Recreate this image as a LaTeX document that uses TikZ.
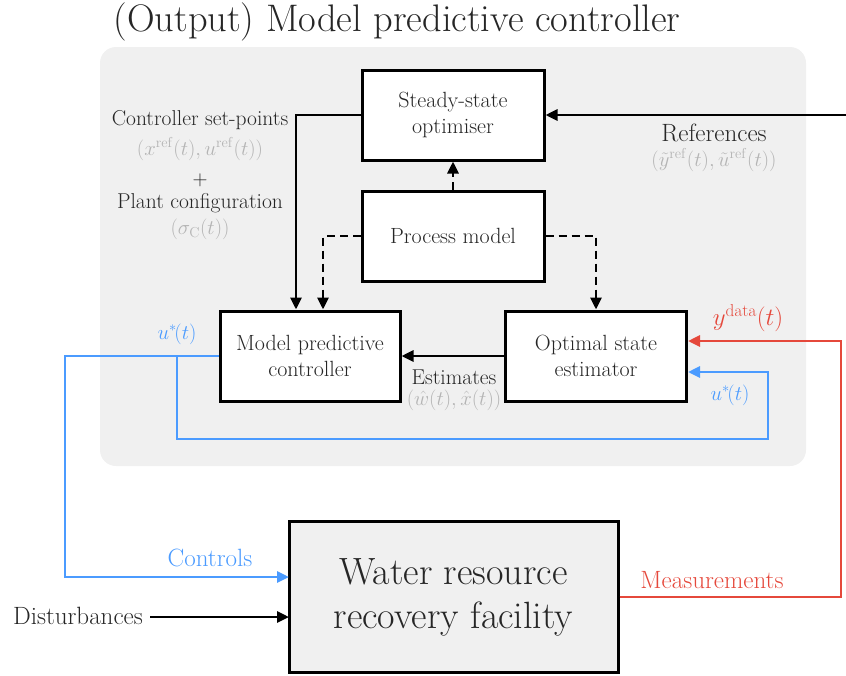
\documentclass[tikz,border=0pt]{standalone}
\usetikzlibrary{arrows.meta,positioning}
\definecolor{panel}{HTML}{F0F0F0}
\definecolor{ctrlblue}{HTML}{4B9BFF}
\definecolor{measred}{HTML}{E5483B}
\definecolor{softgray}{HTML}{B4B4B4}
\definecolor{ink}{HTML}{262626}
\tikzset{
  x=1pt, y=-1pt,
  block/.style={draw=black, line width=3pt, fill=white, minimum width=182pt, minimum height=90pt,
    align=center, text=ink, font=\fontsize{22}{26}\selectfont},
  plantbox/.style={draw=black, line width=3pt, fill=panel, minimum width=329pt, minimum height=151pt,
    align=center, text=ink, font=\fontsize{38}{44}\selectfont},
  tip/.style={-{Triangle[length=12pt,width=11pt]}},
  flow/.style={line width=2.9pt, tip},
  model/.style={flow, dash pattern=on 8pt off 5pt},
  lbl/.style={text=ink, font=\fontsize{21.5}{24}\selectfont, inner sep=0pt},
  sublbl/.style={text=softgray, font=\fontsize{21.5}{24}\selectfont, inner sep=0pt},
  biglbl/.style={font=\fontsize{25}{28}\selectfont, inner sep=0pt},
  siglbl/.style={font=\fontsize{22}{26}\selectfont, inner sep=0pt},
}
\begin{document}
\begin{tikzpicture}
\useasboundingbox (0,0) rectangle (846,675);

% controller panel
\fill[panel, rounded corners=16pt] (100,47) rectangle (806,466);
\node[text=ink, font=\fontsize{38.4}{44}\selectfont, inner sep=0pt] (title) at (397,22) {(Output) Model predictive controller};

% blocks
\node[block] (sso) at (453,115) {Steady-state\\optimiser};
\node[block] (pm) at (453,236) {Process model};
\node[block, minimum width=180pt] (mpc) at (310,356) {Model predictive\\controller};
\node[block, minimum width=181pt] (ose) at (596,356) {Optimal state\\estimator};
\node[plantbox] (wrrf) at (453.5,597) {Water resource\\recovery facility};

% helper points
\coordinate (refin) at (846,115);
\coordinate (spA) at (296,115);
\coordinate (pmL) at (323,236);
\coordinate (pmR) at (596,236);
\coordinate (uL) at (65,356);
\coordinate (uBranch) at (177,356);
\coordinate (fbA) at (177,439);
\coordinate (fbB) at (768,439);
\coordinate (fbC) at (768,372);
\coordinate (mR) at (841,597);
\coordinate (mT) at (841,341);
\coordinate (ctlIn) at (289,577);
\coordinate (distIn) at (289,617);
\coordinate (distL) at (150,617);

% references into the optimiser
\draw[flow] (refin) -- (sso.east);
% set-points to the controller
\draw[flow] (sso.west) -- (spA) -- (spA |- mpc.north);
% process model used by the three blocks
\draw[model] (pm.north) -- (sso.south);
\draw[model] (pm.west) -- (pmL) -- (pmL |- mpc.north);
\draw[model] (pm.east) -- (pmR) -- (pmR |- ose.north);
% estimates
\draw[flow] (ose.west) -- (mpc.east);

% controls to the plant
\draw[flow, ctrlblue] (mpc.west) -- (uL) -- (uL |- ctlIn) -- (ctlIn);
% controls fed back to the estimator
\draw[flow, ctrlblue] (uBranch) -- (fbA) -- (fbB) -- (fbC) -- (fbC -| ose.east);
% measurements
\draw[flow, measred] (wrrf.east) -- (mR) -- (mT) -- (mT -| ose.east);
% disturbances
\node[lbl, biglbl, anchor=east] (dist) at (143,616) {Disturbances};
\draw[flow] (distL) -- (distIn);

% labels
\node[lbl] (sptxt) at (200,120) {Controller set-points};
\node[sublbl] (sptxt2) at (200,149) {$(x^{\mathrm{ref}}(t), u^{\mathrm{ref}}(t))$};
\node[lbl] (plus) at (200,180) {$+$};
\node[lbl] (pctxt) at (200,203) {Plant configuration};
\node[sublbl] (pctxt2) at (200,229) {$(\sigma_{\mathrm{C}}(t))$};
\node[lbl, biglbl] (reftxt) at (714,133) {References};
\node[sublbl] (reftxt2) at (714,160) {$(\tilde{y}^{\mathrm{ref}}(t), \tilde{u}^{\mathrm{ref}}(t))$};
\node[lbl] (esttxt) at (454,377) {Estimates};
\node[sublbl] (esttxt2) at (454,400) {$(\hat{w}(t), \hat{x}(t))$};
\node[siglbl, text=ctrlblue] (u1) at (177,334) {$u^{*\!}(t)$};
\node[siglbl, text=ctrlblue] (u2) at (730,395) {$u^{*\!}(t)$};
\node[biglbl, text=measred] (ydat) at (748,318) {$y^{\mathrm{data}}(t)$};
\node[biglbl, text=ctrlblue] (ctl) at (210,558) {Controls};
\node[biglbl, text=measred] (meas) at (712,580) {Measurements};
\end{tikzpicture}
\end{document}
